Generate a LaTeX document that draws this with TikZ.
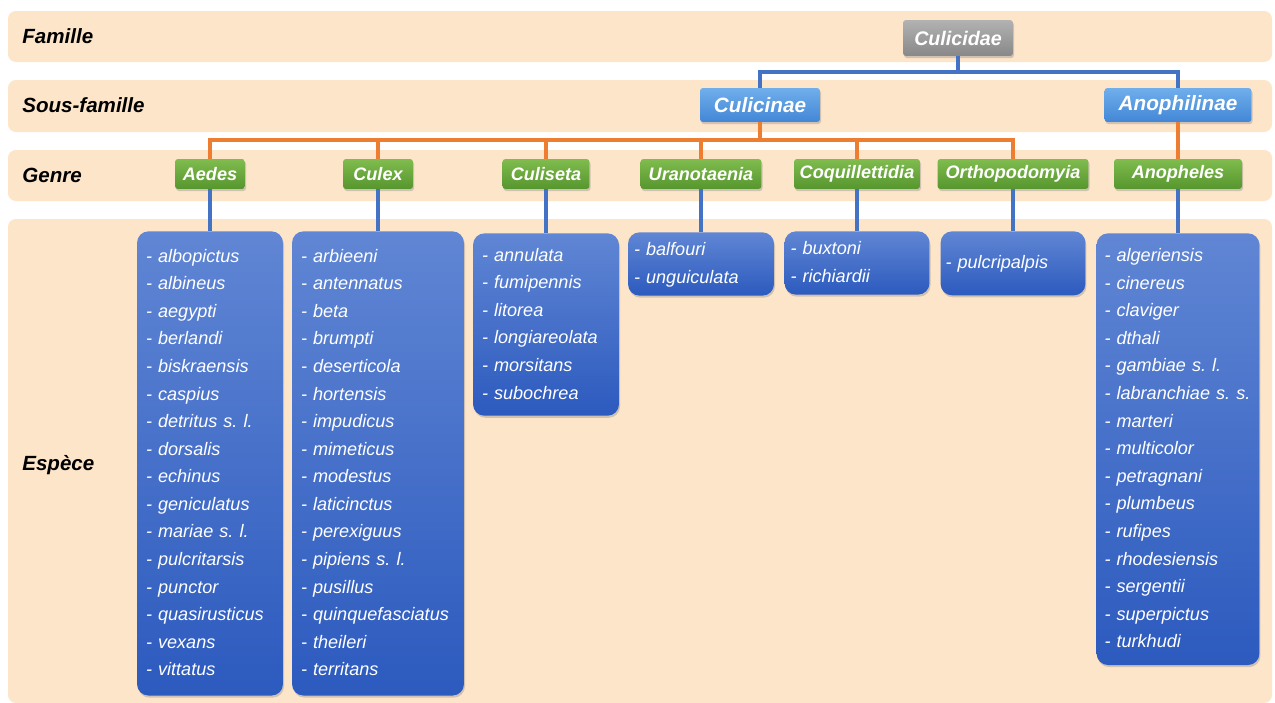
\documentclass[tikz,border=0pt]{standalone}
\usepackage{fontspec}
\setmainfont{Liberation Sans}
\usepackage{tikz}
\usetikzlibrary{shadows}
\frenchspacing

\definecolor{bandfill}{RGB}{253,229,202}
\definecolor{famtop}{RGB}{178,178,178}
\definecolor{fambot}{RGB}{136,136,136}
\definecolor{subtop}{RGB}{112,175,236}
\definecolor{subbot}{RGB}{66,134,214}
\definecolor{gentop}{RGB}{128,188,78}
\definecolor{genbot}{RGB}{86,150,46}
\definecolor{spectop}{RGB}{96,134,212}
\definecolor{specbot}{RGB}{44,90,190}
\definecolor{linkblue}{RGB}{68,114,196}
\definecolor{linkorange}{RGB}{237,125,49}

\tikzset{
  band/.style={fill=bandfill, rounded corners=4.5pt},
  rank/.style={anchor=west, inner sep=0pt, font=\fontsize{11.7}{14}\selectfont\bfseries\itshape},
  taxon/.style={inner sep=0pt, text=white, rounded corners=1.7pt,
    drop shadow={shadow xshift=0.6pt, shadow yshift=-1.2pt, opacity=0.35}},
  famnode/.style={taxon, top color=famtop, bottom color=fambot,
    font=\fontsize{11.2}{13}\selectfont\bfseries\itshape},
  subnode/.style={taxon, top color=subtop, bottom color=subbot,
    minimum height=0.68cm, font=\fontsize{11.8}{13}\selectfont\bfseries\itshape},
  genusnode/.style={taxon, top color=gentop, bottom color=genbot,
    minimum height=0.6cm, font=\fontsize{10.3}{12}\selectfont\bfseries\itshape},
  specbox/.style={anchor=north, align=left, text=white, inner xsep=5.1pt,
    font=\fontsize{10.3}{15.7}\selectfont\itshape, rounded corners=6.5pt,
    top color=spectop, bottom color=specbot,
    drop shadow={shadow xshift=0.6pt, shadow yshift=-1.2pt, opacity=0.35},
    execute at begin node=\strut, execute at end node=\strut},
  blueline/.style={draw=linkblue, line width=1.8pt},
  orangeline/.style={draw=linkorange, line width=1.8pt}
}

\begin{document}
\begin{tikzpicture}[x=0.02cm, y=-0.02cm]
  \useasboundingbox (0,0) rectangle (1275,703);

  % rank bands
  \fill[band] (8,11) rectangle (1272,62);
  \fill[band] (8,80) rectangle (1272,132);
  \fill[band] (8,150) rectangle (1272,201);
  \fill[band] (8,219) rectangle (1272,703);

  \node[rank] at (22,36) (lfam) {Famille};
  \node[rank] at (22,105) (lsub) {Sous-famille};
  \node[rank] at (22,175) (lgen) {Genre};
  \node[rank] at (22,465) (lesp) {Espèce};

  \node[famnode, minimum width=2.2cm, minimum height=0.72cm] at (958,38) (culicidae) {Culicidae};
  \node[subnode, minimum width=2.4cm] at (760,105) (culicinae) {Culicinae};
  \node[subnode, minimum width=2.94cm] at (1178,105) (anophilinae) {Anophilinae};

  \node[genusnode, minimum width=1.4cm] at (210,174) (aedes) {Aedes};
  \node[genusnode, minimum width=1.4cm] at (378,174) (culex) {Culex};
  \node[genusnode, minimum width=1.74cm] at (546,174) (culiseta) {Culiseta};
  \node[genusnode, minimum width=2.42cm] at (701,174) (uranotaenia) {Uranotaenia};
  \node[genusnode, minimum width=2.52cm] at (857,174) (coquillettidia) {Coquillettidia};
  \node[genusnode, minimum width=3.02cm] at (1013,174) (orthopodomyia) {Orthopodomyia};
  \node[genusnode, minimum width=2.56cm] at (1178,174) (anopheles) {Anopheles};

  \node[specbox, text width=2.56cm, inner ysep=6.5pt] at (210,231) (aedessp)
    {- albopictus\\- albineus\\- aegypti\\- berlandi\\- biskraensis\\- caspius\\- detritus s. l.\\- dorsalis\\- echinus\\- geniculatus\\- mariae s. l.\\- pulcritarsis\\- punctor\\- quasirusticus\\- vexans\\- vittatus};
  \node[specbox, text width=3.08cm, inner ysep=6.5pt] at (378,231) (culexsp)
    {- arbieeni\\- antennatus\\- beta\\- brumpti\\- deserticola\\- hortensis\\- impudicus\\- mimeticus\\- modestus\\- laticinctus\\- perexiguus\\- pipiens s. l.\\- pusillus\\- quinquefasciatus\\- theileri\\- territans};
  \node[specbox, text width=2.56cm, inner ysep=4.8pt] at (546,233) (culisetasp)
    {- annulata\\- fumipennis\\- litorea\\- longiareolata\\- morsitans\\- subochrea};
  \node[specbox, text width=2.68cm, inner xsep=3.4pt, inner ysep=2.3pt] at (701,232) (uranotaeniasp)
    {- balfouri\\- unguiculata};
  \node[specbox, text width=2.66cm, inner xsep=3.4pt, inner ysep=2.3pt] at (857,231) (coquillettidiasp)
    {- buxtoni\\- richiardii};
  \node[specbox, text width=2.7cm, inner xsep=2.8pt, minimum height=1.28cm] at (1013,231) (orthopodomyiasp)
    {- pulcripalpis};
  \node[specbox, text width=2.94cm, inner xsep=4.5pt, inner ysep=5.1pt] at (1178,233) (anophelessp)
    {- algeriensis\\- cinereus\\- claviger\\- dthali\\- gambiae s. l.\\- labranchiae s. s.\\- marteri\\- multicolor\\- petragnani\\- plumbeus\\- rufipes\\- rhodesiensis\\- sergentii\\- superpictus\\- turkhudi};

  \coordinate (bjoin) at (958,72);
  \draw[blueline] (culicidae.south) -- (bjoin);
  \draw[blueline] (bjoin) -| (culicinae.north);
  \draw[blueline] (bjoin) -| (anophilinae.north);

  \coordinate (ojoin) at (760,140);
  \draw[orangeline] (culicinae.south) -- (ojoin);
  \foreach \g in {aedes,culex,culiseta,uranotaenia,coquillettidia,orthopodomyia}
    \draw[orangeline] (ojoin) -| (\g.north);
  \draw[orangeline] (anophilinae.south) -- (anopheles.north);

  \foreach \g in {aedes,culex,culiseta,uranotaenia,coquillettidia,orthopodomyia,anopheles}
    \draw[blueline] (\g.south) -- (\g sp.north);
\end{tikzpicture}
\end{document}
